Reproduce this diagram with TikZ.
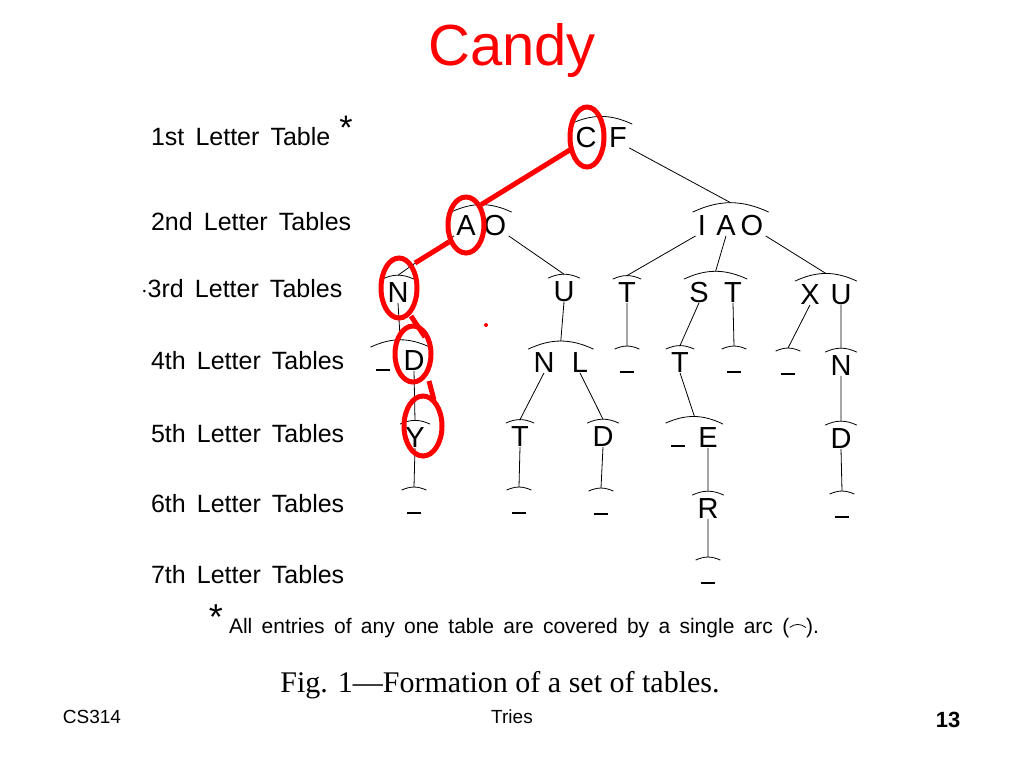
\documentclass[tikz,border=0pt]{standalone}
\usepackage{fontspec}
\setmainfont{Liberation Sans}
\newfontfamily\capfont{Liberation Serif}
\newcommand{\tbl}[3]{\draw ([xshift=-1.5pt,yshift=1pt]#2.north west) to[bend left=25] coordinate[pos=0.5] (#1) ([xshift=1.5pt,yshift=1pt]#3.north east);}
\begin{document}
\begin{tikzpicture}[x=0.5pt,y=-0.5pt,thin]
\tikzstyle{lt}=[inner xsep=1pt,inner ysep=0pt,text height=10.5pt,text depth=0pt,font=\fontsize{14.5}{14.5}\selectfont]
\tikzstyle{bl}=[lt]
\tikzstyle{row}=[anchor=west,font=\fontsize{12.5}{13}\selectfont]
\tikzstyle{hit}=[draw=red,line width=2.5pt]
\useasboundingbox (0,0) rectangle (1024,768);
\node[text=red,font=\fontsize{29}{30}\selectfont] (title) at (512,50) {Candy};
% row labels
\node[row] (r1) at (144,137) {1st\, Letter\, Table};
\node[font=\fontsize{17}{17}\selectfont] (ast1) at (346,128) {*};
\node[row] (r2) at (144,222) {2nd\, Letter\, Tables};
\node[row] (r3) at (134,289) {$\cdot$3rd\, Letter\, Tables};
\node[row] (r4) at (144,361) {4th\, Letter\, Tables};
\node[row] (r5) at (144,434) {5th\, Letter\, Tables};
\node[row] (r6) at (144,504) {6th\, Letter\, Tables};
\node[row] (r7) at (144,575) {7th\, Letter\, Tables};
% letters
\node[lt] (c1) at (586,137) {C};  \node[lt] (f1) at (618,137) {F};
\node[lt] (a2) at (466,225) {A};  \node[lt] (o2) at (495,225) {O};
\node[lt] (i2) at (702,225) {I};  \node[lt] (a2b) at (726,225) {A}; \node[lt] (o2b) at (752,225) {O};
\node[lt] (n3) at (398,292) {N};  \node[lt] (u3) at (564,291) {U};  \node[lt] (t3) at (627,292) {T};
\node[lt] (s3) at (699,292) {S};  \node[lt] (t3b) at (733,292) {T};
\node[lt] (x3) at (810,294) {X};  \node[lt] (u3b) at (841,294) {U};
\node[bl] (z4a) at (383,360) {\rule{7pt}{1pt}}; \node[lt] (d4) at (414,360) {D};
\node[lt] (n4) at (544,362) {N};  \node[lt] (l4) at (580,362) {L};
\node[bl] (z4b) at (627,362) {\rule{7pt}{1pt}}; \node[lt] (t4) at (680,362) {T};
\node[bl] (z4c) at (734,362) {\rule{7pt}{1pt}}; \node[bl] (z4d) at (788,364) {\rule{7pt}{1pt}};
\node[lt] (n4b) at (841,365) {N};
\node[lt] (y5) at (415,437) {Y};  \node[lt] (t5) at (520,436) {T};  \node[lt] (d5) at (603,436) {D};
\node[bl] (z5) at (678,436) {\rule{7pt}{1pt}}; \node[lt] (e5) at (708,437) {E}; \node[lt] (d5b) at (841,438) {D};
\node[bl] (z6a) at (414,503) {\rule{7pt}{1pt}}; \node[bl] (z6b) at (519,503) {\rule{7pt}{1pt}};
\node[bl] (z6c) at (601,504) {\rule{7pt}{1pt}}; \node[lt] (r6) at (708,508) {R};
\node[bl] (z6d) at (842,507) {\rule{7pt}{1pt}}; \node[bl] (z7) at (708,573) {\rule{7pt}{1pt}};
% table arcs
\tbl{T1}{c1}{f1} \tbl{T2}{a2}{o2} \tbl{T3}{i2}{o2b}
\tbl{T4}{n3}{n3} \tbl{T5}{u3}{u3} \tbl{T6}{t3}{t3} \tbl{T7}{s3}{t3b} \tbl{T8}{x3}{u3b}
\tbl{T9}{z4a}{d4} \tbl{T10}{n4}{l4} \tbl{T11}{z4b}{z4b} \tbl{T12}{t4}{t4} \tbl{T13}{z4c}{z4c}
\tbl{T14}{z4d}{z4d} \tbl{T15}{n4b}{n4b}
\tbl{T16}{y5}{y5} \tbl{T17}{t5}{t5} \tbl{T18}{d5}{d5} \tbl{T19}{z5}{e5} \tbl{T20}{d5b}{d5b}
\tbl{T21}{z6a}{z6a} \tbl{T22}{z6b}{z6b} \tbl{T23}{z6c}{z6c} \tbl{T24}{r6}{r6} \tbl{T25}{z6d}{z6d}
\tbl{T26}{z7}{z7}
% links
\draw (c1.south west) -- (T2);  \draw (f1.south east) -- (T3);
\draw (a2.south west) -- (T4);  \draw (o2.south east) -- (T5);
\draw (i2.south west) -- (T6);  \draw (a2b.south) -- (T7);  \draw (o2b.south east) -- (T8);
\draw (n3.south) -- (T9);  \draw (u3.south) -- (T10);  \draw (t3.south) -- (T11);
\draw (s3.south) -- (T12); \draw (t3b.south) -- (T13); \draw (x3.south) -- (T14); \draw (u3b.south) -- (T15);
\draw (d4.south) -- (T16); \draw (n4.south) -- (T17); \draw (l4.south) -- (T18);
\draw (t4.south) -- (T19); \draw (n4b.south) -- (T20);
\draw (y5.south) -- (T21); \draw (t5.south) -- (T22); \draw (d5.south) -- (T23);
\draw (e5.south) -- (T24); \draw (d5b.south) -- (T25); \draw (r6.south) -- (T26);
% path of the word
\draw[hit] (587,137) ellipse [x radius=17,y radius=30];
\draw[hit] (466,225) ellipse [x radius=18,y radius=28];
\draw[hit] (399,288) ellipse [x radius=18,y radius=30];
\draw[hit] (413,354) ellipse [x radius=18,y radius=28];
\draw[hit] (423,426) ellipse [x radius=19,y radius=30];
\draw[hit,shorten <=2pt] (c1.south west) -- (T2);
\draw[hit] (449,242) -- (415,263);
\draw[hit] (411,316) -- (425,337);
\draw[hit] (429,381) -- (434,400);
\fill[red] (486,325) circle (2);
% footnote and caption
\node[font=\fontsize{18}{18}\selectfont] (ast2) at (216,617) {*};
\node[anchor=west,font=\fontsize{10.5}{10.5}\selectfont] (note) at (222,628) {All\, entries\, of\, any\, one\, table\, are\, covered\, by\, a\, single\, arc\, (\tikz[baseline]\draw (0,3pt) to[bend left=40] (8pt,3pt);).};
\node[font=\capfont\fontsize{15}{15}\selectfont] (cap) at (500,685) {Fig. 1\textemdash Formation of a set of tables.};
\node[font=\fontsize{9.5}{10}\selectfont] (f1t) at (92,717) {CS314};
\node[font=\fontsize{9.5}{10}\selectfont] (f2t) at (512,717) {Tries};
\node[font=\bfseries\fontsize{11}{11}\selectfont] (f3t) at (948,720) {13};
\end{tikzpicture}
\end{document}
